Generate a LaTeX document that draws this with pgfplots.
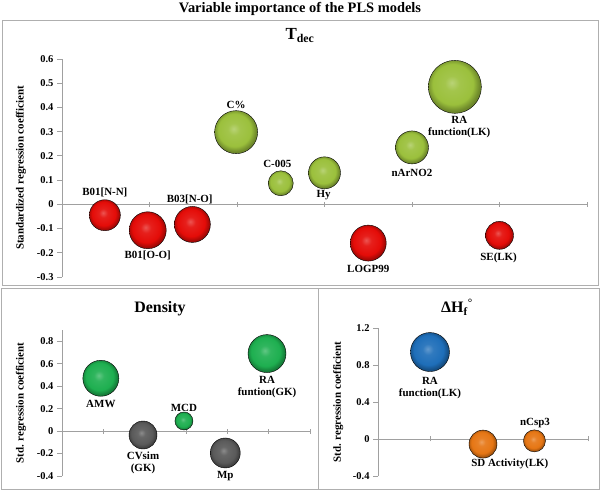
\documentclass[border=0pt]{standalone}
\usepackage{pgfplots}
\pgfplotsset{compat=1.18}
\usepackage{fontspec}
\setmainfont{Liberation Serif}

\definecolor{framegray}{RGB}{175,175,175}
\definecolor{axisgray}{RGB}{160,160,160}
\definecolor{bred}{RGB}{228,12,8}
\definecolor{bolive}{RGB}{155,192,60}
\definecolor{bgreen}{RGB}{30,175,80}
\definecolor{bgray}{RGB}{90,90,90}
\definecolor{bblue}{RGB}{30,110,185}
\definecolor{borange}{RGB}{230,118,20}

% flatter, Excel-like bubble shading (replaces the glossy tikz ball)
\makeatletter
\pgfdeclareradialshading[tikz@ball]{ball}{\pgfqpoint{-3bp}{4bp}}{%
  color(0bp)=(tikz@ball!70!white);
  color(7bp)=(tikz@ball!92!white);
  color(19bp)=(tikz@ball);
  color(25bp)=(tikz@ball!70!black);
  color(50bp)=(tikz@ball!60!black)}
\makeatother

\tikzset{lab/.style={font=\bfseries\fontsize{11}{12}\selectfont, align=center, inner sep=0pt}}

\pgfplotsset{
  panel/.style={
    scale only axis, clip=false, anchor=south west,
    axis x line=middle, axis y line=left,
    axis line style={draw=axisgray, line width=0.8pt, -},
    tick style={draw=axisgray, line width=0.8pt},
    xtick align=center, ytick align=outside,
    major tick length=5bp,
    xticklabels={},
    scaled y ticks=false,
    /pgf/number format/assume math mode=true,
    yticklabel style={font=\bfseries\fontsize{10.5}{10.5}\selectfont},
    ylabel style={font=\bfseries\fontsize{11}{11}\selectfont, rotate=0, anchor=center},
  },
  bubble/.style 2 args={only marks, mark=ball, mark size=#1, mark options={ball color=#2}},
}

\begin{document}
\begin{tikzpicture}
\path[use as bounding box] (0,0) rectangle (600bp,490bp);

% frames
\draw[framegray, line width=1pt] (2bp,204bp) rectangle (598bp,469bp);
\draw[framegray, line width=1pt] (1bp,1bp) rectangle (318bp,201bp);
\draw[framegray, line width=1pt] (318bp,1bp) rectangle (599bp,201bp);

\node[anchor=base, font=\bfseries\fontsize{14.5}{15}\selectfont] at (300bp,477bp) {Variable importance of the PLS models};

% ---- T_dec ----
\node[anchor=base, font=\bfseries\fontsize{17}{17}\selectfont] at (300bp,450bp) {T\textsubscript{dec}};
\begin{axis}[panel, at={(62bp,213bp)}, width=525bp, height=218bp,
  xmin=0, xmax=6, ymin=-0.3, ymax=0.6, xtick={0,...,6},
  ytick={-0.3,-0.2,-0.1,0,0.1,0.2,0.3,0.4,0.5,0.6},
  ylabel={Standardized regression coefficient},
  ylabel style={at={(axis description cs:-0.078,0.5)}}]
\addplot[bubble={15.5bp}{bred}] coordinates {(0.49,-0.045)};
\addplot[bubble={18.5bp}{bred}] coordinates {(0.98,-0.107)};
\addplot[bubble={18bp}{bred}] coordinates {(1.49,-0.083)};
\addplot[bubble={21.5bp}{bolive}] coordinates {(1.99,0.298)};
\addplot[bubble={12.5bp}{bolive}] coordinates {(2.50,0.087)};
\addplot[bubble={16bp}{bolive}] coordinates {(3.00,0.130)};
\addplot[bubble={18bp}{bred}] coordinates {(3.50,-0.160)};
\addplot[bubble={16.5bp}{bolive}] coordinates {(4.00,0.235)};
\addplot[bubble={26.5bp}{bolive}] coordinates {(4.49,0.485)};
\addplot[bubble={14bp}{bred}] coordinates {(5.00,-0.128)};
\node[lab] at (axis cs:0.49,0.05) {B01[N-N]};
\node[lab] at (axis cs:0.98,-0.21) {B01[O-O]};
\node[lab] at (axis cs:1.46,0.02) {B03[N-O]};
\node[lab] at (axis cs:1.99,0.41) {C\%};
\node[lab] at (axis cs:2.46,0.165) {C-005};
\node[lab] at (axis cs:2.99,0.04) {Hy};
\node[lab] at (axis cs:4.00,0.13) {nArNO2};
\node[lab] at (axis cs:4.54,0.32) {RA\\function(LK)};
\node[lab] at (axis cs:3.50,-0.265) {LOGP99};
\node[lab] at (axis cs:4.99,-0.22) {SE(LK)};
\end{axis}

% ---- Density ----
\node[anchor=base, font=\bfseries\fontsize{16}{16}\selectfont] at (160bp,177bp) {Density};
\begin{axis}[panel, at={(62bp,14bp)}, width=248bp, height=146bp,
  xmin=0, xmax=6, ymin=-0.4, ymax=0.9, xtick={0,...,6},
  ytick={-0.4,-0.2,0,0.2,0.4,0.6,0.8},
  ylabel={Std. regression coefficient},
  ylabel style={at={(axis description cs:-0.165,0.5)}}]
\addplot[bubble={18bp}{bgreen}] coordinates {(0.94,0.47)};
\addplot[bubble={14bp}{bgray}] coordinates {(1.96,-0.035)};
\addplot[bubble={9bp}{bgreen}] coordinates {(2.95,0.09)};
\addplot[bubble={15bp}{bgray}] coordinates {(3.95,-0.195)};
\addplot[bubble={19bp}{bgreen}] coordinates {(4.96,0.69)};
\node[lab] at (axis cs:0.94,0.24) {AMW};
\node[lab] at (axis cs:1.96,-0.285) {CVsim\\(GK)};
\node[lab] at (axis cs:2.95,0.21) {MCD};
\node[lab] at (axis cs:3.95,-0.40) {Mp};
\node[lab] at (axis cs:4.96,0.39) {RA\\funtion(GK)};
\end{axis}

% ---- Delta H_f ----
\node[anchor=base, font=\bfseries\fontsize{16}{16}\selectfont] at (457bp,177bp) {ΔH\textsubscript{f}\textsuperscript{°}};
\begin{axis}[panel, at={(378bp,14bp)}, width=210bp, height=148bp,
  xmin=0, xmax=4, ymin=-0.4, ymax=1.2, xtick={0,...,4},
  ytick={-0.4,0,0.4,0.8,1.2},
  ylabel={Std. regression coefficient},
  ylabel style={at={(axis description cs:-0.19,0.5)}}]
\addplot[bubble={19.5bp}{bblue}] coordinates {(0.99,0.94)};
\addplot[bubble={14bp}{borange}] coordinates {(2.00,-0.055)};
\addplot[bubble={11bp}{borange}] coordinates {(2.98,-0.02)};
\node[lab] at (axis cs:0.99,0.55) {RA\\function(LK)};
\node[lab] at (axis cs:2.51,-0.27) {SD Activity(LK)};
\node[lab] at (axis cs:2.99,0.17) {nCsp3};
\end{axis}
\end{tikzpicture}
\end{document}
